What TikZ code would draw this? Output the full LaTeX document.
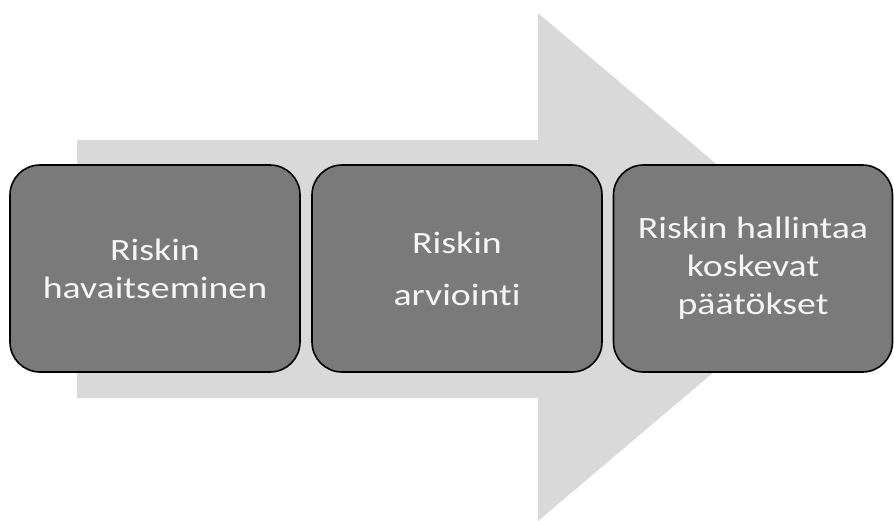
\documentclass[tikz,border=0pt]{standalone}
\usepackage{fontspec}
\setmainfont{Carlito}
\newfontfamily\boxfont[FakeStretch=1.22,Ligatures={NoCommon,NoDiscretionary,NoRare},Contextuals=NoAlternate]{Carlito}
\definecolor{arrowgray}{RGB}{217,217,217}
\definecolor{boxgray}{RGB}{122,122,122}
\definecolor{textwhite}{RGB}{245,245,245}
\begin{document}
\begin{tikzpicture}[x=1pt,y=-1pt,
  stagebox/.style={draw=black, line width=1.6pt, fill=boxgray, rounded corners=30pt,
    minimum height=207pt, text=textwhite, align=center,
    font=\boxfont\fontsize{31}{38}\selectfont, inner sep=0pt}]
\useasboundingbox (0,0) rectangle (894,520);
\fill[arrowgray] (77,140) -- (538,140) -- (538,13) -- (838,267) -- (538,521) -- (538,398) -- (77,398) -- cycle;
\node[stagebox, minimum width=290pt] (b1) at (155,268.5) {Riskin\\havaitseminen};
\node[stagebox, minimum width=290pt] (b2) at (457,268.5) {Riskin\\[14pt]arviointi};
\node[stagebox, minimum width=279pt] (b3) at (753,268.5) {Riskin hallintaa\\koskevat\\päätökset};
\end{tikzpicture}
\end{document}
